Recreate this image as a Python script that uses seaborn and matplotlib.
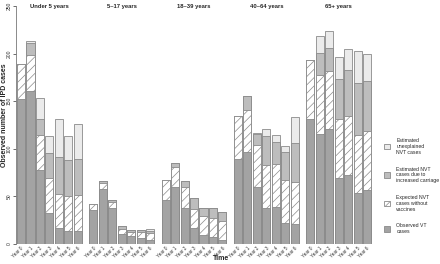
import matplotlib
matplotlib.use("Agg")
import matplotlib.pyplot as plt
from matplotlib.patches import Patch
import pandas as pd
import seaborn as sns

sns.set_theme(style="white")
plt.rcParams["font.family"] = ["Liberation Sans", "DejaVu Sans"]
plt.rcParams["hatch.linewidth"] = 0.5

years = ["Year 0", "Year 1", "Year 2", "Year 3", "Year 4", "Year 5", "Year 6"]
age_groups = ["Under 5 years", "5\u201317 years", "18\u201339 years", "40\u201364 years", "65+ years"]

# stacked components per age group (bottom to top)
observed_vt = [
    [152, 161, 78, 32, 17, 14, 14],
    [36, 58, 38, 10, 8, 6, 4],
    [46, 60, 38, 17, 9, 7, 4],
    [89, 97, 60, 38, 39, 22, 21],
    [131, 116, 121, 69, 72, 54, 57],
]
expected_nvt = [
    [37, 38, 37, 37, 36, 36, 37],
    [6, 6, 6, 6, 5, 7, 7],
    [21, 21, 22, 20, 20, 20, 20],
    [45, 44, 44, 45, 45, 45, 44],
    [62, 62, 61, 62, 62, 60, 62],
]
carriage_nvt = [
    [0, 12, 16, 27, 38, 38, 38],
    [0, 2, 2, 3, 2, 2, 3],
    [0, 4, 6, 11, 9, 11, 10],
    [0, 14, 12, 30, 23, 30, 41],
    [0, 23, 24, 42, 49, 55, 52],
]
unexplained_nvt = [
    [0, 2, 22, 17, 40, 25, 37],
    [0, 0, 0, 0, 0, 0, 2],
    [0, 0, 0, 0, 0, 0, 0],
    [0, 0, 1, 8, 7, 6, 27],
    [0, 18, 18, 23, 22, 34, 29],
]

legend_labels = [
    "Estimated\nunexplained\nNVT cases",
    "Estimated NVT\ncases due to\nincreased carriage",
    "Expected NVT\ncases without\nvaccines",
    "Observed VT\ncases",
]

dark = "#a3a3a3"
medium = "#bdbdbd"
light = "#ebebeb"
edge = "#8a8a8a"

fig, axes = plt.subplots(1, 5, figsize=(4.4, 2.64), dpi=100, sharey=True)
fig.subplots_adjust(left=0.037, right=0.845, bottom=0.076, top=0.977, wspace=0.09)

for i, (ax, group) in enumerate(zip(axes, age_groups)):
    df = pd.DataFrame({
        "year": years,
        "vt": observed_vt[i],
        "exp": expected_nvt[i],
        "carr": carriage_nvt[i],
        "unexp": unexplained_nvt[i],
    })
    df["exp_top"] = df["vt"] + df["exp"]
    df["carr_top"] = df["exp_top"] + df["carr"]
    df["total"] = df["carr_top"] + df["unexp"]

    # draw from the top of the stack down so lower layers overlay
    layers = [("total", light, None), ("carr_top", medium, None),
              ("exp_top", "white", "////"), ("vt", dark, None)]
    for col, color, hatch in layers:
        sns.barplot(df, x="year", y=col, color=color, saturation=1,
                    width=0.85, errorbar=None, edgecolor=edge,
                    linewidth=0.6, hatch=hatch, ax=ax)

    ax.set_xlabel("")
    ax.set_ylabel("")
    ax.set_ylim(0, 250)
    ax.set_xlim(-0.5, 6.5)
    ax.set_title(group, fontsize=4.2, fontweight="bold", pad=0, va="center")
    ax.set_xticks(range(len(years)))
    ax.set_xticklabels(years, rotation=45, ha="right", rotation_mode="anchor",
                       fontsize=3.3, color="#333333")
    ax.tick_params(axis="x", length=0, pad=1.5)
    for s in ["top", "right", "bottom"]:
        ax.spines[s].set_visible(False)
    if i == 0:
        ax.spines["left"].set_color("#777777")
        ax.spines["left"].set_linewidth(0.6)
        ax.set_yticks([0, 50, 100, 150, 200, 250])
        ax.tick_params(axis="y", left=True, length=2, width=0.5, pad=1,
                       labelsize=3.6, colors="#333333")
        for lab in ax.get_yticklabels():
            lab.set_rotation(90)
            lab.set_va("center")
    else:
        ax.spines["left"].set_visible(False)
        ax.tick_params(axis="y", left=False, labelleft=False)

fig.text(5 / 440, 1 - 115 / 264, "Observed number of IPD cases", rotation=90,
         ha="center", va="center", fontsize=5, fontweight="bold")
fig.text(0.502, 1 - 258 / 264, "Time", ha="center", va="center",
         fontsize=5, fontweight="bold")

handles = [
    Patch(facecolor=light, edgecolor=edge, linewidth=0.6),
    Patch(facecolor=medium, edgecolor=edge, linewidth=0.6),
    Patch(facecolor="white", edgecolor=edge, linewidth=0.6, hatch="////"),
    Patch(facecolor=dark, edgecolor=edge, linewidth=0.6),
]
fig.legend(handles, legend_labels, loc="center left",
           bbox_to_anchor=(0.866, 0.295), frameon=False, fontsize=3.7,
           handlelength=1.3, handleheight=1.3, labelspacing=2.3,
           handletextpad=1.2, borderpad=0)

fig.savefig("out.png", dpi=100)
